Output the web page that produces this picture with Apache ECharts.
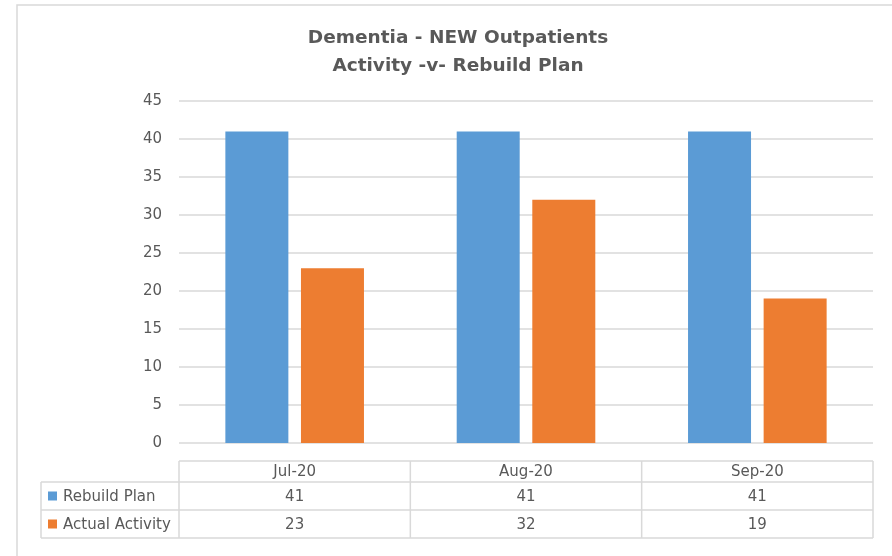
<!DOCTYPE html>
<html>
<head>
<meta charset="utf-8">
<script src="https://cdn.jsdelivr.net/npm/echarts@6/dist/echarts.min.js"></script>
<style>
  html, body { margin: 0; padding: 0; background: #fff; }
  #chart { width: 892px; height: 556px; }
</style>
</head>
<body>
<div id="chart"></div>
<script>
// Monthly data
const categories = ['Jul-20', 'Aug-20', 'Sep-20'];
const rebuildPlan = [41, 41, 41];
const actualActivity = [23, 32, 19];
const seriesNames = ['Rebuild Plan', 'Actual Activity'];
const seriesColors = ['#5B9BD5', '#ED7D31'];

const FONT = '"DejaVu Sans", "Open Sans", sans-serif';
const TEXT = '#595959';
const LINE = '#d9d9d9';

const chart = echarts.init(document.getElementById('chart'), null, { renderer: 'canvas' });

chart.setOption({
  animation: false,
  backgroundColor: '#fff',
  textStyle: { fontFamily: FONT },
  title: {
    text: 'Dementia - NEW Outpatients\nActivity -v- Rebuild Plan',
    left: 453,
    top: 19,
    textAlign: 'center',
    textStyle: { fontFamily: FONT, fontSize: 18.5, fontWeight: 'bold', color: TEXT, lineHeight: 28 }
  },
  grid: { left: 179, right: 19, top: 101, bottom: 113, containLabel: false },
  xAxis: {
    type: 'category',
    data: categories,
    axisLine: { show: false },
    axisTick: { show: false },
    axisLabel: { show: false }
  },
  yAxis: {
    type: 'value',
    min: 0,
    max: 45,
    interval: 5,
    axisLine: { show: false },
    axisTick: { show: false },
    axisLabel: { color: TEXT, fontSize: 15, fontFamily: FONT, margin: 17 },
    splitLine: { lineStyle: { color: LINE, width: 1.5 } }
  },
  series: [
    {
      name: seriesNames[0], type: 'bar', data: rebuildPlan,
      barWidth: 63, barGap: '20%',
      itemStyle: { color: seriesColors[0] }
    },
    {
      name: seriesNames[1], type: 'bar', data: actualActivity,
      barWidth: 63, barGap: '20%',
      itemStyle: { color: seriesColors[1] }
    }
  ]
});

// Data table beneath the plot, aligned to the category bands
function buildTable() {
  const c0 = chart.convertToPixel({ xAxisIndex: 0 }, 0);
  const c1 = chart.convertToPixel({ xAxisIndex: 0 }, 1);
  const band = c1 - c0;
  const left = c0 - band / 2;
  const right = left + band * categories.length;
  const legendLeft = 41;
  const yHead = 461, yRow1 = 482, yRow2 = 510, yBottom = 538;
  const ls = { stroke: LINE, lineWidth: 1.5 };
  const els = [];

  // chart frame: top and left edges
  els.push({ type: 'polyline', shape: { points: [[17, 556], [17, 5], [892, 5]] },
             style: { fill: null, stroke: LINE, lineWidth: 1.5 }, silent: true });

  // horizontal rules
  els.push({ type: 'line', shape: { x1: left, y1: yHead, x2: right, y2: yHead }, style: ls });
  [yRow1, yRow2, yBottom].forEach(y => {
    els.push({ type: 'line', shape: { x1: legendLeft, y1: y, x2: right, y2: y }, style: ls });
  });
  // vertical rules
  els.push({ type: 'line', shape: { x1: legendLeft, y1: yRow1, x2: legendLeft, y2: yBottom }, style: ls });
  for (let i = 0; i <= categories.length; i++) {
    const x = left + band * i;
    els.push({ type: 'line', shape: { x1: x, y1: yHead, x2: x, y2: yBottom }, style: ls });
  }

  const txt = (x, y, s, align) => ({
    type: 'text', x, y,
    style: { text: String(s), fill: TEXT, fontSize: 15, fontFamily: FONT,
             align: align || 'center', verticalAlign: 'middle' }
  });

  categories.forEach((cat, i) => {
    const cx = left + band * (i + 0.5);
    els.push(txt(cx, (yHead + yRow1) / 2 + 1, cat));
    els.push(txt(cx, (yRow1 + yRow2) / 2 + 1, rebuildPlan[i]));
    els.push(txt(cx, (yRow2 + yBottom) / 2 + 1, actualActivity[i]));
  });

  [[yRow1, yRow2], [yRow2, yBottom]].forEach((r, k) => {
    const cy = (r[0] + r[1]) / 2;
    els.push({ type: 'rect', shape: { x: 48, y: cy - 4.5, width: 9, height: 9 },
               style: { fill: seriesColors[k] } });
    els.push(txt(63, cy + 1, seriesNames[k], 'left'));
  });

  chart.setOption({ graphic: { elements: els } });
}
buildTable();
</script>
</body>
</html>
